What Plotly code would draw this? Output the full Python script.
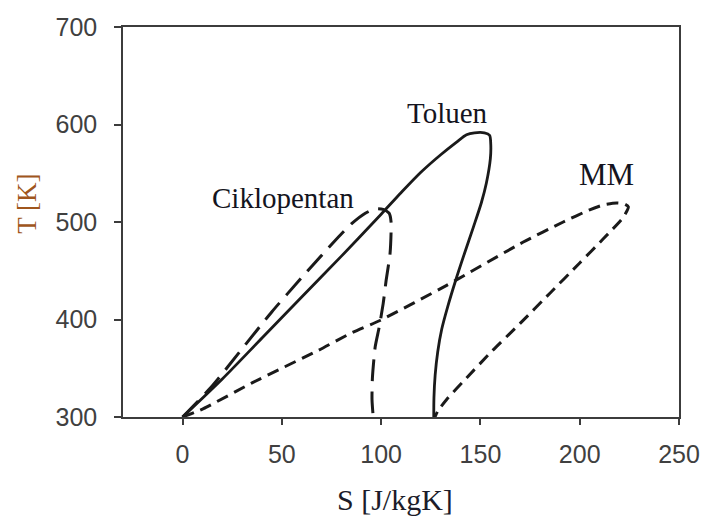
import plotly.graph_objects as go

# Toluen (solid)
toluen_s = [0, 20, 40, 60, 80, 100, 110, 120, 130, 138, 143, 147, 152, 154.6, 155.2, 155, 153, 150.5, 146.5, 142, 137.5, 133.5, 130.5, 128.5, 127.2, 126.6, 126.5]
toluen_t = [300, 339, 381, 423, 465, 508, 530, 551, 569, 582, 589.5, 591.5, 591.5, 589, 580, 565, 540, 520, 495, 468, 440, 413, 390, 367, 343, 320, 300]

# Ciklopentan (long dash)
ciklo_s = [0, 15, 30, 45, 60, 75, 85, 92, 97, 101, 104, 105, 104.5, 102.5, 101, 99, 97, 95.6, 95.4, 96]
ciklo_t = [300, 332, 370, 408, 443, 477, 498, 509, 513.5, 513, 509, 500, 468, 440, 416, 392, 372, 340, 318, 300]

# MM (short dash)
mm_s = [0, 10.5, 35, 68.4, 84.3, 99.4, 133, 171.6, 191.7, 205, 212, 218.6, 222.5, 224.5, 222, 212, 200, 185, 170, 156, 143, 133, 128.5, 127.1]
mm_t = [300, 308.6, 335, 368.4, 385.5, 399, 435, 479.5, 500, 512.5, 517.5, 519.5, 518.5, 515.5, 505, 483, 458, 427, 396, 368, 340, 318, 306, 300]

x_ticks = [0, 50, 100, 150, 200, 250]
y_ticks = [300, 400, 500, 600, 700]

labels = ["Toluen", "Ciklopentan", "MM"]
label_s = [133.2, 50.4, 213.5]
label_t = [611.5, 524.3, 549.0]
label_size = [29, 29, 31]

fig = go.Figure()
fig.add_trace(go.Scatter(x=toluen_s, y=toluen_t, mode="lines", name="Toluen",
                         line=dict(color="#1a1a1a", width=2.8, shape="spline", smoothing=0.8)))
fig.add_trace(go.Scatter(x=ciklo_s, y=ciklo_t, mode="lines", name="Ciklopentan",
                         line=dict(color="#1a1a1a", width=3, dash="22px,10px", shape="spline", smoothing=0.6)))
fig.add_trace(go.Scatter(x=mm_s, y=mm_t, mode="lines", name="MM",
                         line=dict(color="#1a1a1a", width=3, dash="12px,7px", shape="spline", smoothing=0.6)))

for txt, sx, ty, fs in zip(labels, label_s, label_t, label_size):
    fig.add_annotation(x=sx, y=ty, xref="x", yref="y", text=txt, showarrow=False,
                       font=dict(family="Liberation Serif", size=fs, color="#141420"),
                       xanchor="center", yanchor="middle")

fig.add_annotation(x=0.489, y=-0.211, xref="paper", yref="paper", text="S [J/kgK]", showarrow=False,
                   font=dict(family="Liberation Serif", size=30, color="#1c1c2a"),
                   xanchor="center", yanchor="middle")
fig.add_annotation(x=-0.172, y=0.548, xref="paper", yref="paper", text="T [K]", showarrow=False,
                   textangle=-90,
                   font=dict(family="Liberation Serif", size=27, color="#a0561c"),
                   xanchor="center", yanchor="middle")

axis_common = dict(showgrid=False, zeroline=False, showline=True, linecolor="#3c3c3c", linewidth=1.5,
                   mirror=True, ticks="outside", tickcolor="#3c3c3c", tickwidth=1.5, automargin=False,
                   tickfont=dict(family="Liberation Sans", size=25, color="#404040"))

fig.update_xaxes(range=[-30, 250], tickvals=x_ticks, ticklen=6, ticklabelstandoff=8, **axis_common)
fig.update_yaxes(range=[300, 700], tickvals=y_ticks, ticklen=7, ticklabelstandoff=12, **axis_common)

fig.update_layout(width=705, height=516, margin=dict(l=123, r=26, t=27, b=99, autoexpand=False),
                  plot_bgcolor="white", paper_bgcolor="white", showlegend=False)

fig.write_html("out.html", config={"displayModeBar": False, "responsive": False},
               post_script="document.body.style.margin='0';document.body.style.overflow='hidden';")
